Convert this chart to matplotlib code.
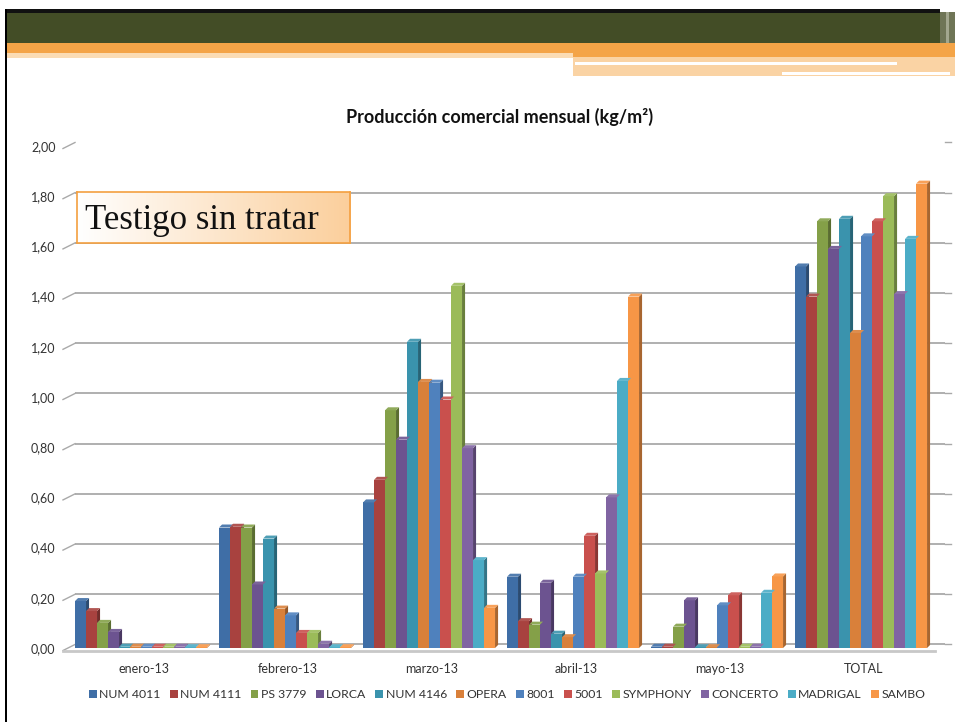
import matplotlib
matplotlib.use("Agg")
import matplotlib.pyplot as plt
from matplotlib.patches import Polygon, Rectangle
from matplotlib.lines import Line2D
import numpy as np

categories = ["enero-13", "febrero-13", "marzo-13", "abril-13", "mayo-13", "TOTAL"]
series_names = ["NUM 4011", "NUM 4111", "PS 3779", "LORCA", "NUM 4146", "OPERA",
                "8001", "5001", "SYMPHONY", "CONCERTO", "MADRIGAL", "SAMBO"]
num4011 = [0.187, 0.48, 0.58, 0.284, 0.005, 1.52]
num4111 = [0.147, 0.483, 0.67, 0.107, 0.005, 1.40]
ps3779 = [0.10, 0.48, 0.947, 0.093, 0.085, 1.70]
lorca = [0.064, 0.253, 0.83, 0.26, 0.19, 1.59]
num4146 = [0.005, 0.436, 1.22, 0.057, 0.003, 1.71]
opera = [0.005, 0.157, 1.06, 0.043, 0.003, 1.255]
s8001 = [0.005, 0.13, 1.057, 0.284, 0.17, 1.64]
s5001 = [0.005, 0.06, 0.99, 0.447, 0.21, 1.70]
symphony = [0.005, 0.06, 1.443, 0.297, 0.005, 1.80]
concerto = [0.005, 0.017, 0.796, 0.60, 0.005, 1.41]
madrigal = [0.003, 0.003, 0.35, 1.064, 0.22, 1.63]
sambo = [0.003, 0.003, 0.16, 1.40, 0.285, 1.85]
series_values = [num4011, num4111, ps3779, lorca, num4146, opera,
                 s8001, s5001, symphony, concerto, madrigal, sambo]
yticks = [0.0, 0.2, 0.4, 0.6, 0.8, 1.0, 1.2, 1.4, 1.6, 1.8, 2.0]
ytick_labels = ["0,00", "0,20", "0,40", "0,60", "0,80", "1,00",
                "1,20", "1,40", "1,60", "1,80", "2,00"]
title = "Producción comercial mensual (kg/m²)"
box_text = "Testigo sin tratar"

colors = ["#3f6ea6", "#a8423f", "#84a048", "#6c5390", "#3a93ad", "#d9803a",
          "#4f81bd", "#c9504d", "#9bbb59", "#8064a2", "#4bacc6", "#f79646"]

plt.rcParams['font.family'] = ['Lato', 'DejaVu Sans']

W, H = 955, 722
fig = plt.figure(figsize=(W / 100, H / 100), dpi=100)
fig.patch.set_facecolor("white")

def fx(px):
    return px / W

def fy(py):
    return 1 - py / H

# ---- slide header decorations ----
deco = fig.add_axes([0, 0, 1, 1], zorder=-5)
deco.set_xlim(0, W)
deco.set_ylim(H, 0)
deco.axis("off")
deco.add_patch(Rectangle((6, 12), 944, 31, color="#434d26", lw=0))
deco.add_patch(Rectangle((6, 9), 934, 3.5, color="#111111", lw=0))
deco.add_patch(Rectangle((6, 43), 949, 10, color="#f4a447", lw=0))
deco.add_patch(Rectangle((6, 53), 567, 5, color="#fbdcb4", lw=0))
deco.add_patch(Rectangle((573, 53), 382, 4, color="#f4a447", lw=0))
deco.add_patch(Rectangle((573, 57), 382, 19, color="#fad3a4", lw=0))
deco.add_patch(Rectangle((575, 62), 322, 2.5, color="white", lw=0))
deco.add_patch(Rectangle((782, 72), 168, 2.5, color="white", lw=0))
deco.add_patch(Rectangle((940, 12), 15, 31, color="#6f7556", lw=0))
deco.add_patch(Rectangle((946, 12), 3, 31, color="#a3a78f", lw=0))
deco.add_patch(Rectangle((4.5, 9), 2.5, H - 9, color="#000000", lw=0))

# ---- chart ----
ax_left, ax_right, ax_top, ax_bottom = 75, 945, 146, 648
ax = fig.add_axes([fx(ax_left), fy(ax_bottom), fx(ax_right - ax_left), (ax_bottom - ax_top) / H])
ax.set_facecolor("none")
pitch_px = 144.0
x0 = -(144 - ax_left) / pitch_px
ax.set_xlim(x0, x0 + (ax_right - ax_left) / pitch_px)
ax.set_ylim(0, 2.0)

n = len(series_names)
bw = 0.0764
dx = 0.021
dy = 0.012
x_idx = np.arange(len(categories))


def darker(c, f):
    r, g, b = matplotlib.colors.to_rgb(c)
    return (r * f, g * f, b * f)


def lighter(c, f):
    r, g, b = matplotlib.colors.to_rgb(c)
    return (r + (1 - r) * f, g + (1 - g) * f, b + (1 - b) * f)


for i, (name, vals, col) in enumerate(zip(series_names, series_values, colors)):
    lefts = x_idx - 0.479 + i * bw
    bars = ax.bar(lefts, vals, width=bw, align="edge", color=col, label=name,
                  zorder=3 + i * 0.01, linewidth=0)
    for b, v in zip(bars, vals):
        xl = b.get_x()
        xr = xl + b.get_width()
        side = Polygon([(xr, 0), (xr + dx, dy), (xr + dx, v + dy), (xr, v)],
                       closed=True, color=darker(col, 0.68), lw=0, zorder=2.9 + i * 0.01)
        top = Polygon([(xl, v), (xl + dx, v + dy), (xr + dx, v + dy), (xr, v)],
                      closed=True, color=lighter(col, 0.1), lw=0, zorder=3.05 + i * 0.01)
        ax.add_patch(side)
        ax.add_patch(top)

# gridlines (back wall) with perspective stubs on the left
for t in yticks:
    ax.axhline(t + 0.014, color="#a9a9a9", lw=1.3, zorder=1)
    ax.add_line(Line2D([x0 - 12 / pitch_px, x0], [t - 0.01, t + 0.014],
                       color="#a9a9a9", lw=1.0, clip_on=False, zorder=1))
    ax.add_line(Line2D([x0 + 870 / pitch_px, x0 + 876 / pitch_px], [t + 0.014, t + 0.014],
                       color="#a9a9a9", lw=1.0, clip_on=False, zorder=1))
# floor
ax.add_line(Line2D([x0 - 12 / pitch_px, x0 + 860 / pitch_px], [-0.012, -0.012],
                   color="#c8c8c8", lw=2.0, clip_on=False, zorder=2))

for s in ax.spines.values():
    s.set_visible(False)
ax.set_yticks(yticks)
ax.set_yticklabels(ytick_labels)
ax.set_xticks(x_idx)
ax.set_xticklabels(categories)
ax.tick_params(axis="y", length=0, pad=14, labelsize=9, labelcolor="#333333")
ax.tick_params(axis="x", length=0, pad=11, labelsize=9, labelcolor="#333333")
ax.grid(False)

fig.text(fx(500), fy(117), title, ha="center", va="center", fontsize=13,
         fontweight="bold", color="#111111")

leg = fig.legend(loc="center", bbox_to_anchor=(fx(507), fy(695)), ncol=12, frameon=False,
                 fontsize=8.8, handlelength=0.65, handleheight=0.65, handletextpad=0.2,
                 columnspacing=0.75, borderaxespad=0)
for txt in leg.get_texts():
    txt.set_color("#333333")

# text box with gradient
bx0, bx1, by0, by1 = 77, 350, 192, 243
bax = fig.add_axes([fx(bx0), fy(by1), fx(bx1 - bx0), (by1 - by0) / H], zorder=10)
grad = np.linspace(0, 1, 256)[None, :, None]
c0 = np.array([1.0, 1.0, 1.0])
c1 = np.array(matplotlib.colors.to_rgb("#fbcf9c"))
img = c0 + (c1 - c0) * grad
bax.imshow(img, aspect="auto", extent=(0, 1, 0, 1))
bax.set_xticks([])
bax.set_yticks([])
for s in bax.spines.values():
    s.set_color("#f4a040")
    s.set_linewidth(1.2)
bax.text(0.03, 0.45, box_text, ha="left", va="center", fontsize=25,
         family=["Liberation Serif", "DejaVu Serif"], color="#111111", transform=bax.transAxes)

fig.savefig("out.png", dpi=100, facecolor="white")
